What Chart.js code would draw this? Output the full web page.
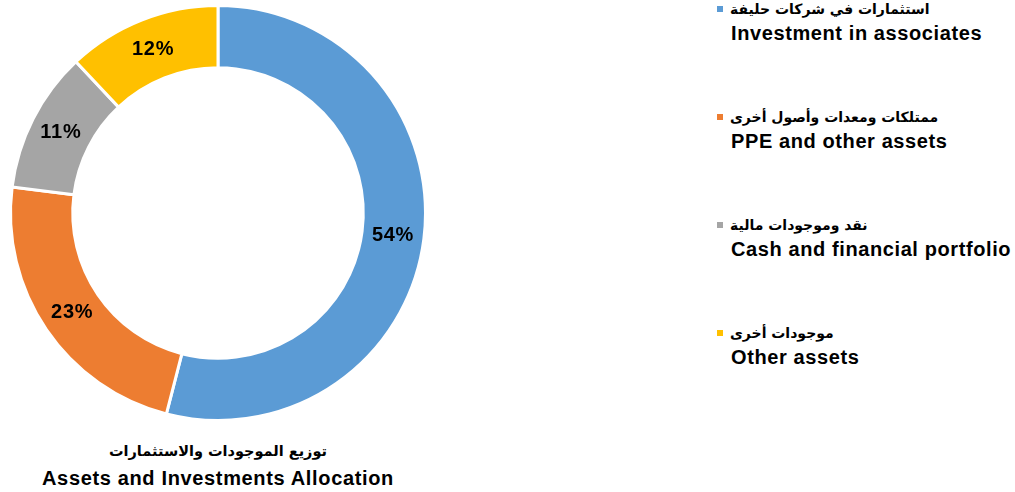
<!DOCTYPE html>
<html>
<head>
<meta charset="utf-8">
<script src="https://cdn.jsdelivr.net/npm/chart.js@4/dist/chart.umd.min.js"></script>
<style>
    body { margin: 0; background: #fff; font-family: 'Liberation Sans', Arial, sans-serif; }
    .wrap { position: relative; width: 1015px; height: 492px; }
    .chart-box { position: absolute; left: 0; top: 0; width: 436px; height: 426px; }
    .title { position: absolute; left: 0; width: 436px; text-align: center; font-weight: 700; color: #000; }
    .title .ar { position: absolute; top: 443px; width: 100%; font-size: 14.5px; font-family: 'DejaVu Sans', sans-serif; }
    .title .en { position: absolute; top: 467px; width: 100%; font-size: 20px; letter-spacing: 0.65px; }
    .legend-item { position: absolute; left: 717px; font-weight: 700; color: #000; }
    .legend-item .ar { display: flex; align-items: center; height: 18px; font-size: 14px; font-family: 'DejaVu Sans', sans-serif; }
    .legend-item .sw { width: 6px; height: 6px; margin-right: 7px; }
    .legend-item .en { margin-left: 14px; margin-top: 3px; font-size: 20px; line-height: 24px; letter-spacing: 0.6px; white-space: nowrap; }
</style>
</head>
<body>
<div class="wrap">
    <div class="chart-box"><canvas id="donut"></canvas></div>
    <div class="title">
        <div class="ar" dir="rtl">توزيع الموجودات والاستثمارات</div>
        <div class="en">Assets and Investments Allocation</div>
    </div>
    <div id="legend"></div>
</div>
<script>
const labelsAr = ['استثمارات في شركات حليفة', 'ممتلكات ومعدات وأصول أخرى', 'نقد وموجودات مالية', 'موجودات أخرى'];
const labelsEn = ['Investment in associates', 'PPE and other assets', 'Cash and financial portfolio', 'Other assets'];
const shares = [54, 23, 11, 12];
const colors = ['#5B9BD5', '#ED7D31', '#A5A5A5', '#FFC000'];

document.addEventListener('DOMContentLoaded', () => {
    renderLegend();
    renderDonut();
});

function renderLegend() {
    const box = document.getElementById('legend');
    box.innerHTML = labelsEn.map((en, i) => `
        <div class="legend-item" style="top:${i * 108}px;">
            <div class="ar"><span class="sw" style="background:${colors[i]}"></span><span dir="rtl">${labelsAr[i]}</span></div>
            <div class="en">${en}</div>
        </div>
    `).join('');
}

// draws the percentage inside each slice
const sliceLabels = {
    id: 'sliceLabels',
    afterDatasetsDraw(chart) {
        const ctx = chart.ctx;
        const meta = chart.getDatasetMeta(0);
        ctx.save();
        ctx.font = "bold 20px 'Liberation Sans', Arial, sans-serif";
        ctx.letterSpacing = '0.7px';
        ctx.fillStyle = '#000';
        ctx.textAlign = 'center';
        ctx.textBaseline = 'middle';
        meta.data.forEach((arc, i) => {
            const p = arc.tooltipPosition();
            ctx.fillText(shares[i] + '%', p.x, p.y);
        });
        ctx.restore();
    }
};

function renderDonut() {
    const ctx = document.getElementById('donut');
    new Chart(ctx, {
        type: 'doughnut',
        data: {
            labels: labelsEn,
            datasets: [{
                data: shares,
                backgroundColor: colors,
                borderColor: '#fff',
                borderWidth: 3
            }]
        },
        options: {
            responsive: true,
            maintainAspectRatio: false,
            animation: false,
            cutout: '70%',
            layout: { padding: 4 },
            plugins: {
                legend: { display: false },
                tooltip: { enabled: false }
            }
        },
        plugins: [sliceLabels]
    });
}
</script>
</body>
</html>
